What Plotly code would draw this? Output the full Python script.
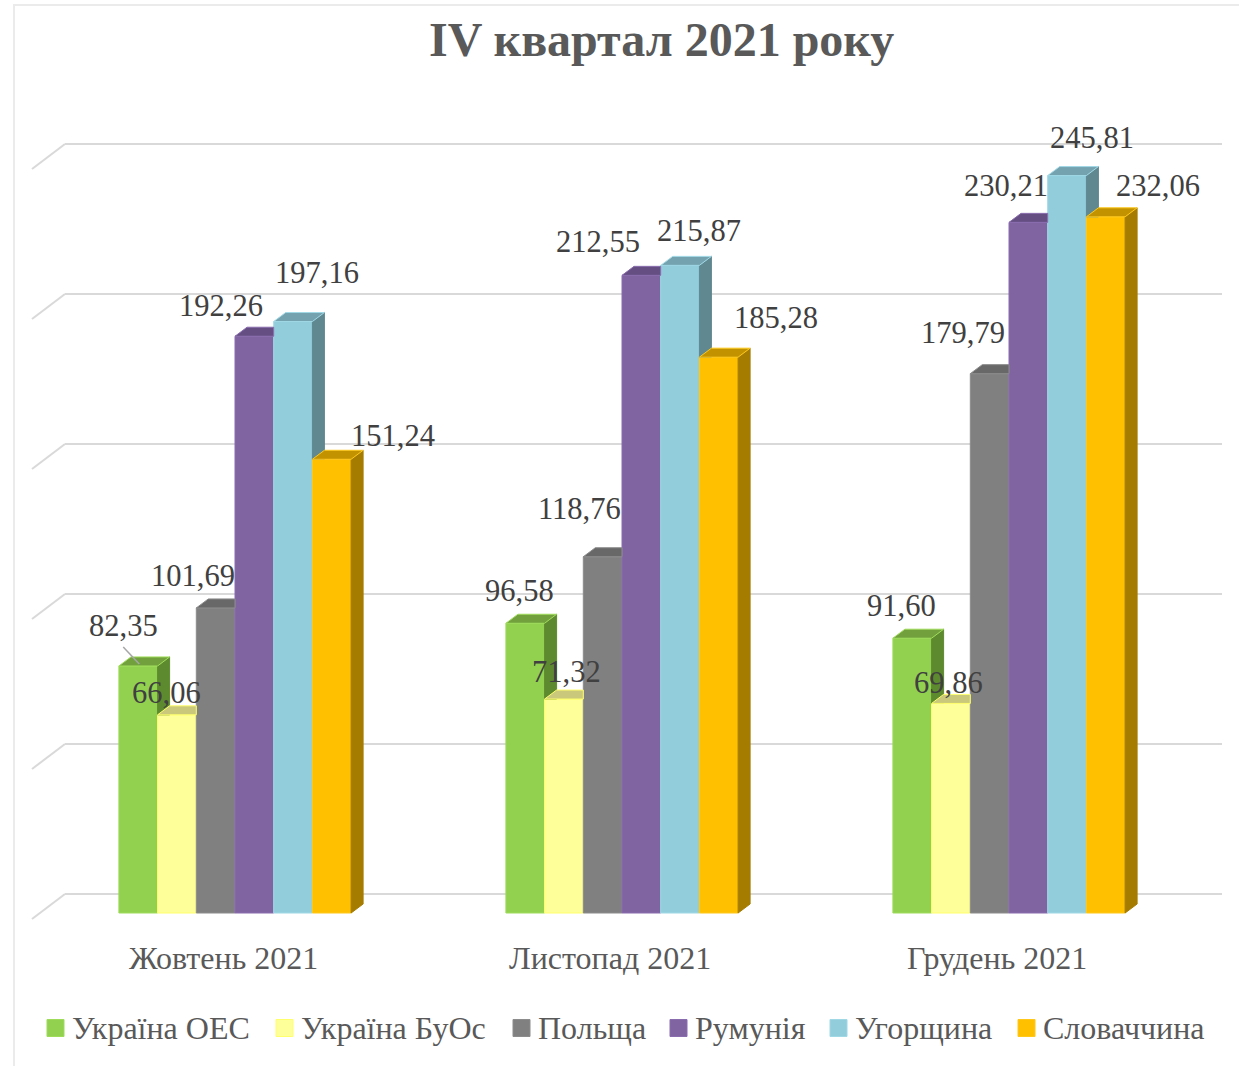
import plotly.graph_objects as go

# ---------------- data ----------------
categories = ["Жовтень 2021", "Листопад 2021", "Грудень 2021"]
series_names = ["Україна ОЕС", "Україна БуОс", "Польща", "Румунія", "Угорщина", "Словаччина"]
ukraine_oes = [82.35, 96.58, 91.60]
ukraine_buos = [66.06, 71.32, 69.86]
poland = [101.69, 118.76, 179.79]
romania = [192.26, 212.55, 230.21]
hungary = [197.16, 215.87, 245.81]
slovakia = [151.24, 185.28, 232.06]
series_values = [ukraine_oes, ukraine_buos, poland, romania, hungary, slovakia]
grid_values = [0, 50, 100, 150, 200, 250]
title_text = "IV квартал 2021 року"

# ---------------- style ----------------
front_colors = ["#92D050", "#FFFF99", "#808080", "#8064A2", "#92CDDC", "#FFC000"]
top_colors = ["#71A03D", "#C9C87B", "#686868", "#654F82", "#74A3AF", "#C29200"]
side_colors = ["#5E8A2F", "#BDBD72", "#595959", "#574571", "#5F8891", "#A67C00"]
edge_colors = ["#9FDC5A", "#FFFF6E", "#8C8C8C", "#8A6DAE", "#A0D8E6", "#FFC81A"]

# label offsets in pixels from the front-top centre of each bar (series x category)
label_offsets = [
    [(-15, -40), (-6, -32), (-11, -32)],
    [(-10, -22), (3, -27), (-2, -20)],
    [(-23, -32), (-23, -48), (-27, -41)],
    [(-33, -30), (-43, -33), (-22, -36)],
    [(24, -49), (19, -34), (25, -38)],
    [(61, -23), (57, -39), (52, -31)],
]

W, H = 1239, 1066
CAT0_PX = 235.0     # pixel x of first category centre
PX_PER_CAT = 387.0
BASE_PX = 913.0     # pixel y of bar fronts' base
PX_PER_UNIT = 3.0
BAR_W = 0.1
DX = 12.0 / PX_PER_CAT          # bar depth, horizontal (category units)
DY = 9.0 / PX_PER_UNIT          # bar depth, vertical (value units)
FLOOR_DX = 33.0 / PX_PER_CAT
FLOOR_BACK_DY = 19.0 / PX_PER_UNIT
FLOOR_FRONT_DY = -6.0 / PX_PER_UNIT
WALL_RIGHT_PX = 1222.0

def px_x(px):
    return (px - CAT0_PX) / PX_PER_CAT

def px_y(py):
    return (BASE_PX - py) / PX_PER_UNIT

SERIF = "Liberation Serif, Times New Roman, serif"

fig = go.Figure()

n = len(series_values)

# gridlines (back wall + left diagonal)
shapes = []
wall_left = px_x(65)
for g in grid_values:
    shapes.append(dict(type="line", xref="x", yref="y", layer="below",
                       x0=wall_left, x1=px_x(WALL_RIGHT_PX), y0=g + FLOOR_BACK_DY, y1=g + FLOOR_BACK_DY,
                       line=dict(color="#D9D9D9", width=2)))
    shapes.append(dict(type="line", xref="x", yref="y", layer="below",
                       x0=wall_left - FLOOR_DX, x1=wall_left, y0=g + FLOOR_FRONT_DY, y1=g + FLOOR_BACK_DY,
                       line=dict(color="#D9D9D9", width=2)))

# chart border
shapes.append(dict(type="rect", xref="paper", yref="paper", layer="below",
                   x0=14 / W, x1=1.01, y0=1 - 5 / H, y1=-0.01,
                   line=dict(color="#EBEBEB", width=2), fillcolor="rgba(0,0,0,0)"))

# front faces
for i in range(n):
    xs = [c + (i - (n - 1) / 2) * BAR_W for c in range(len(categories))]
    fig.add_trace(go.Bar(
        x=xs, y=series_values[i], width=BAR_W, name=series_names[i],
        marker=dict(color=front_colors[i], line=dict(color=edge_colors[i], width=1)),
        hoverinfo="skip", showlegend=False))

def side_poly(xr, v, vn):
    if vn <= 0:
        return [(xr, 0), (xr, v), (xr + DX, v + DY), (xr + DX, DY)]
    if vn < v:
        return [(xr, vn), (xr, v), (xr + DX, v + DY), (xr + DX, vn)]
    if vn < v + DY:
        xi = xr + DX * (vn - v) / DY
        return [(xi, vn), (xr + DX, v + DY), (xr + DX, vn)]
    return None

def top_poly(x0, xr, v, vn):
    if vn <= v:
        return [(x0, v), (xr, v), (xr + DX, v + DY), (x0 + DX, v + DY)]
    if vn >= v + DY:
        return [(x0, v), (xr, v), (xr, v + DY), (x0 + DX, v + DY)]
    xi = xr + DX * (vn - v) / DY
    return [(x0, v), (xr, v), (xr, vn), (xi, vn), (xr + DX, v + DY), (x0 + DX, v + DY)]

def poly_trace(polys, color, edge):
    xs, ys = [], []
    for p in polys:
        if p is None:
            continue
        for (a, b) in p:
            xs.append(a)
            ys.append(b)
        xs.append(p[0][0]); ys.append(p[0][1])
        xs.append(None); ys.append(None)
    return go.Scatter(x=xs, y=ys, mode="lines", fill="toself", fillcolor=color,
                      line=dict(color=edge, width=1), hoverinfo="skip", showlegend=False)

for i in range(n):
    sides, tops = [], []
    for c in range(len(categories)):
        xc = c + (i - (n - 1) / 2) * BAR_W
        x0, xr = xc - BAR_W / 2, xc + BAR_W / 2
        v = series_values[i][c]
        vn = series_values[i + 1][c] if i + 1 < n else 0
        sides.append(side_poly(xr, v, vn))
        tops.append(top_poly(x0, xr, v, vn))
    fig.add_trace(poly_trace(sides, side_colors[i], side_colors[i]))
    fig.add_trace(poly_trace(tops, top_colors[i], edge_colors[i]))

# data labels
annotations = []
for i in range(n):
    for c in range(len(categories)):
        xc = c + (i - (n - 1) / 2) * BAR_W
        v = series_values[i][c]
        ox, oy = label_offsets[i][c]
        annotations.append(dict(x=xc, y=v, xref="x", yref="y", xshift=ox, yshift=-oy,
                                text=f"{v:.2f}".replace(".", ","), showarrow=False,
                                xanchor="center", yanchor="middle",
                                font=dict(family=SERIF, size=30.5, color="#404040")))

# leader line for first label
xc0 = 0 + (0 - (n - 1) / 2) * BAR_W
v0 = series_values[0][0]
shapes.append(dict(type="line", xref="x", yref="y", x0=xc0 - 15 / PX_PER_CAT, y0=v0 + 19 / PX_PER_UNIT,
                   x1=xc0 + 1 / PX_PER_CAT, y1=v0 + 2 / PX_PER_UNIT, line=dict(color="#A6A6A6", width=1.5)))

# category labels
for c, name in enumerate(categories):
    annotations.append(dict(x=c, y=px_y(958), xref="x", yref="y", xshift=-12, text=name,
                            showarrow=False, xanchor="center", yanchor="middle",
                            font=dict(family=SERIF, size=32, color="#595959")))

# legend (manual)
legend_sq_left = [47, 276, 513, 670, 830, 1018]
legend_y = 1028
for i, name in enumerate(series_names):
    sx = legend_sq_left[i]
    shapes.append(dict(type="rect", xref="paper", yref="paper",
                       x0=sx / W, x1=(sx + 17) / W, y0=1 - (legend_y - 8.5) / H, y1=1 - (legend_y + 8.5) / H,
                       fillcolor=front_colors[i], line=dict(color=edge_colors[i], width=1)))
    annotations.append(dict(x=(sx + 23) / W, y=1 - legend_y / H, xref="paper", yref="paper",
                            text=name, showarrow=False, xanchor="left", yanchor="middle",
                            font=dict(family=SERIF, size=32, color="#595959")))

# title
annotations.append(dict(x=661 / W, y=1 - 39 / H, xref="paper", yref="paper", text=f"<b>{title_text}</b>",
                        showarrow=False, xanchor="center", yanchor="middle",
                        font=dict(family=SERIF, size=48, color="#595959")))

fig.update_layout(
    width=W, height=H, margin=dict(l=0, r=0, t=0, b=0),
    paper_bgcolor="white", plot_bgcolor="white",
    barmode="overlay", showlegend=False,
    xaxis=dict(range=[px_x(0), px_x(W)], visible=False, fixedrange=True),
    yaxis=dict(range=[px_y(H), px_y(0)], visible=False, fixedrange=True),
    shapes=shapes, annotations=annotations,
)

fig.write_html("out.html", config={"displayModeBar": False},
               post_script="document.body.style.margin='0';document.body.style.overflow='hidden';")
